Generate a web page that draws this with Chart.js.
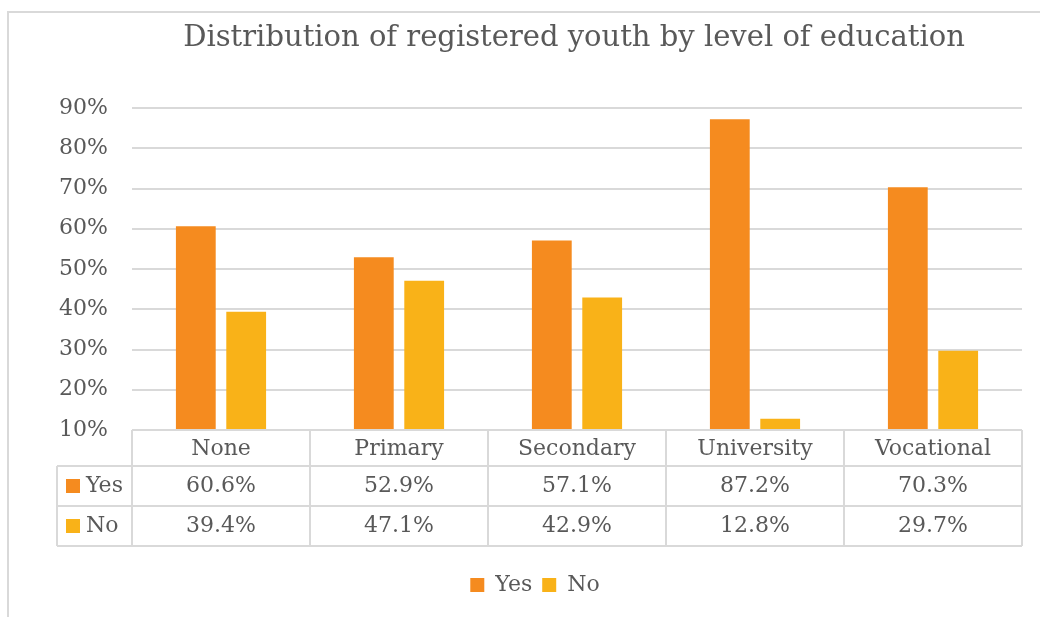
<!DOCTYPE html>
<html>
<head>
<meta charset="utf-8">
<script src="https://cdn.jsdelivr.net/npm/chart.js@4/dist/chart.umd.min.js"></script>
<style>
    html, body { margin: 0; padding: 0; background: #ffffff; }
    #wrap { position: relative; width: 1040px; height: 617px; }
</style>
</head>
<body>
<div id="wrap"><canvas id="chart" width="1040" height="617"></canvas></div>
<script>
// education levels and the share of registered youth (in %)
const levels = ["None", "Primary", "Secondary", "University", "Vocational"];
const yesValues = [60.6, 52.9, 57.1, 87.2, 70.3];
const noValues = [39.4, 47.1, 42.9, 12.8, 29.7];
const yTicks = [10, 20, 30, 40, 50, 60, 70, 80, 90];

const titleText = "Distribution of registered youth by level of education";
const textColor = "#595959";
const lineColor = "#d9d9d9";
const fontName = "'DejaVu Serif', serif";
const yesColor = "#f58b1f";
const noColor = "#f9b218";

/**
 * draws the outer frame, the title and the data table under the x axis
 */
const tablePlugin = {
    id: "dataTable",
    beforeDraw(chart) {
        const ctx = chart.ctx;
        ctx.save();
        ctx.strokeStyle = lineColor;
        ctx.lineWidth = 2;
        ctx.strokeRect(8, 12, 1200, 800);
        ctx.restore();
    },
    afterDraw(chart) {
        const ctx = chart.ctx;
        const area = chart.chartArea;
        const x = chart.scales.x;
        const top = area.bottom;
        const rowH = 40;
        const headH = 36;
        const tableLeft = 57;
        const rows = [
            { label: "Yes", color: yesColor, values: yesValues },
            { label: "No", color: noColor, values: noValues }
        ];

        // column edges come from the category scale
        let edges = [area.left];
        for (let i = 0; i < levels.length - 1; i++) {
            edges.push((x.getPixelForValue(i) + x.getPixelForValue(i + 1)) / 2);
        }
        edges.push(area.right);

        ctx.save();
        ctx.strokeStyle = lineColor;
        ctx.lineWidth = 2;
        ctx.beginPath();
        ctx.moveTo(area.left, top);
        ctx.lineTo(area.right, top);
        for (let r = 0; r <= rows.length; r++) {
            let y = top + headH + r * rowH;
            ctx.moveTo(tableLeft, y);
            ctx.lineTo(area.right, y);
        }
        let bottom = top + headH + rows.length * rowH;
        ctx.moveTo(tableLeft, top + headH);
        ctx.lineTo(tableLeft, bottom);
        for (let i = 0; i < edges.length; i++) {
            ctx.moveTo(edges[i], top);
            ctx.lineTo(edges[i], bottom);
        }
        ctx.stroke();

        ctx.fillStyle = textColor;
        ctx.font = "22px " + fontName;
        ctx.textAlign = "center";
        ctx.textBaseline = "middle";
        for (let i = 0; i < levels.length; i++) {
            let cx = (edges[i] + edges[i + 1]) / 2;
            ctx.fillStyle = textColor;
            ctx.fillText(levels[i], cx, top + headH / 2 + 1);
            for (let r = 0; r < rows.length; r++) {
                let cy = top + headH + r * rowH + rowH / 2;
                ctx.fillText(rows[r].values[i].toFixed(1) + "%", cx, cy);
            }
        }

        ctx.textAlign = "left";
        for (let r = 0; r < rows.length; r++) {
            let cy = top + headH + r * rowH + rowH / 2;
            ctx.fillStyle = rows[r].color;
            ctx.fillRect(66, cy - 7, 14, 14);
            ctx.fillStyle = textColor;
            ctx.fillText(rows[r].label, 86, cy);
        }

        // title
        ctx.textAlign = "center";
        ctx.font = "29px " + fontName;
        ctx.fillStyle = textColor;
        ctx.fillText(titleText, 574, 38);
        ctx.restore();
    }
};

new Chart(document.getElementById("chart"), {
    type: "bar",
    data: {
        labels: levels,
        datasets: [
            { label: "Yes", data: yesValues, backgroundColor: yesColor },
            { label: "No", data: noValues, backgroundColor: noColor }
        ]
    },
    options: {
        responsive: false,
        animation: false,
        events: [],
        layout: { padding: { left: 48, right: 18, top: 108, bottom: 11 } },
        datasets: {
            bar: { categoryPercentage: 0.566, barPercentage: 0.79 }
        },
        scales: {
            x: {
                ticks: { display: false },
                grid: { display: false },
                border: { display: false },
                afterFit(scale) { scale.height = 134; }
            },
            y: {
                min: 10,
                max: 90,
                afterFit(scale) { scale.width = 84; },
                afterBuildTicks(scale) { scale.ticks = yTicks.map(v => ({ value: v })); },
                border: { display: false },
                grid: { color: lineColor, lineWidth: 2, drawTicks: false },
                ticks: {
                    padding: 24,
                    color: textColor,
                    font: { family: fontName, size: 22 },
                    callback: (v) => v + "%"
                }
            }
        },
        plugins: {
            title: { display: false },
            tooltip: { enabled: false },
            legend: {
                position: "bottom",
                labels: {
                    color: textColor,
                    boxWidth: 14,
                    boxHeight: 14,
                    padding: 10,
                    font: { family: fontName, size: 22 }
                }
            }
        }
    },
    plugins: [tablePlugin]
});
</script>
</body>
</html>
